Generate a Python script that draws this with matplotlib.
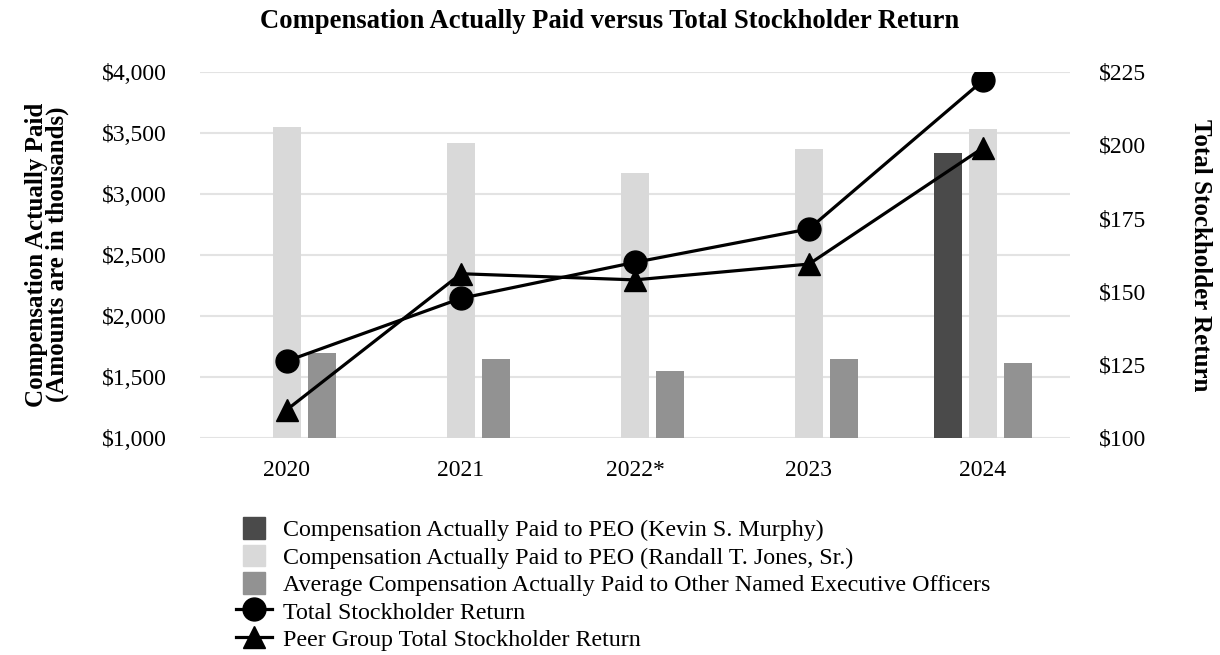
import matplotlib
matplotlib.use("Agg")
import matplotlib.pyplot as plt
import matplotlib.patches as mpatches
from matplotlib.legend_handler import HandlerPatch
import numpy as np
from matplotlib.ticker import FuncFormatter

years = ["2020", "2021", "2022*", "2023", "2024"]
cap_murphy = [np.nan, np.nan, np.nan, np.nan, 3335]
cap_jones = [3545, 3415, 3170, 3365, 3530]
cap_neo = [1692, 1643, 1545, 1643, 1610]
tsr = [126.2, 147.6, 159.9, 171.3, 222.0]
peer_tsr = [109.6, 156.0, 153.9, 159.3, 199.0]

labels_bar = ['Compensation Actually Paid to PEO (Kevin S. Murphy)',
              'Compensation Actually Paid to PEO (Randall T. Jones, Sr.)',
              'Average Compensation Actually Paid to Other Named Executive Officers']
colors_bar = ['#4a4a4a', '#d9d9d9', '#929292']

plt.rcParams['font.family'] = ['Liberation Serif', 'DejaVu Serif']

fig = plt.figure(figsize=(12.2, 6.55), dpi=100)
ax = fig.add_axes([200/1220, 1-437.7/655, 870/1220, 366/655])
x = np.arange(len(years))
w = 0.16
off = 0.2
ax.bar(x - off, cap_murphy, w, color=colors_bar[0], zorder=2)
ax.bar(x, cap_jones, w, color=colors_bar[1], zorder=2)
ax.bar(x + off, cap_neo, w, color=colors_bar[2], zorder=2)
ax.set_ylim(1000, 4000)
ax.set_yticks(np.arange(1000, 4001, 500))
ax.yaxis.set_major_formatter(FuncFormatter(lambda v, p: f"${v:,.0f}"))
ax.set_xlim(-0.5, 4.5)
ax.set_xticks(x)
ax.set_xticklabels(years)
ax.grid(axis='y', color='#e3e3e3', linewidth=1.5, zorder=0)
ax.set_axisbelow(True)
for s in ax.spines.values():
    s.set_visible(False)
ax.tick_params(axis='y', length=0, labelsize=17, pad=24)
ax.tick_params(axis='x', length=0, labelsize=17, pad=16)
ax.set_ylabel("Compensation Actually Paid\n(Amounts are in thousands)", fontsize=18,
              fontweight='bold', linespacing=0.85)
ax.yaxis.set_label_coords((69-200)/870, 0.5)

ax2 = ax.twinx()
ax2.set_ylim(100, 225)
ax2.set_yticks(np.arange(100, 226, 25))
ax2.yaxis.set_major_formatter(FuncFormatter(lambda v, p: f"${v:,.0f}"))
for s in ax2.spines.values():
    s.set_visible(False)
ax2.tick_params(axis='both', length=0, labelsize=17, pad=21)
l_tsr, = ax2.plot(x, tsr, color='black', marker='o', markersize=16.5, linewidth=2.3, zorder=3)
l_peer, = ax2.plot(x, peer_tsr, color='black', marker='^', markersize=16.5, linewidth=2.3, zorder=3)
ax2.set_ylabel("Total Stockholder Return", fontsize=18, fontweight='bold', rotation=270, va='center')
ax2.yaxis.set_label_coords((1201-200)/870, 0.5)

fig.text(0.5, 1-22/655, "Compensation Actually Paid versus Total Stockholder Return",
         fontsize=19.2, fontweight='bold', ha='center', va='center')


def square_patch(legend, orig_handle, xdescent, ydescent, width, height, fontsize):
    return mpatches.Rectangle((-xdescent + (width - height) / 2, -ydescent), height, height)


handles = [mpatches.Patch(color=c) for c in colors_bar] + [l_tsr, l_peer]
labels = labels_bar + ['Total Stockholder Return', 'Peer Group Total Stockholder Return']
fig.legend(handles, labels, loc='upper left', bbox_to_anchor=(236/1220, 1-517/655),
           frameon=False, fontsize=17.3, handlelength=1.5, handleheight=1.0, handletextpad=0.45,
           labelspacing=0.15, borderaxespad=0, borderpad=0,
           handler_map={mpatches.Patch: HandlerPatch(patch_func=square_patch)})

fig.savefig("out.png", dpi=100)
